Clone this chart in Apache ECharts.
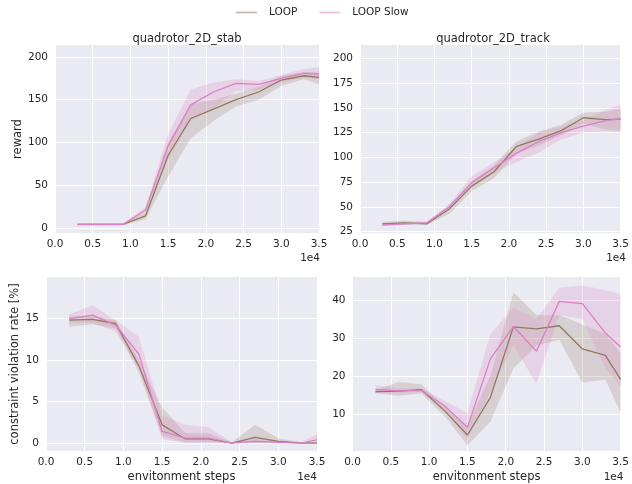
<!DOCTYPE html>
<html>
<head>
<meta charset="utf-8">
<script src="https://cdn.jsdelivr.net/npm/echarts@6/dist/echarts.min.js"></script>
<style>html,body{margin:0;padding:0;background:#fff}#c{width:632px;height:484px}</style>
</head>
<body>
<div id="c"></div>
<script>
// ---- data ----
const steps = [3000, 6000, 9000, 12000, 15000, 18000, 21000, 24000, 27000, 30000, 33000, 35000];
const xTicks = [0, 5000, 10000, 15000, 20000, 25000, 30000, 35000];
const titles = ['quadrotor_2D_stab', 'quadrotor_2D_track'];
const seriesNames = ['LOOP', 'LOOP Slow'];

// quadrotor_2D_stab reward
const stabLoop   = [4, 4, 4, 14, 85, 128, 139, 150, 159, 173, 178, 176];
const stabLoopLo = [3, 3, 3, 10, 60, 105, 125, 142, 150, 166, 174, 168];
const stabLoopHi = [5, 5, 5, 18, 100, 145, 150, 157, 165, 178, 182, 182];
const stabSlow   = [4, 4, 4, 21, 96, 144, 159, 169, 168, 175, 181, 180];
const stabSlowLo = [3, 3, 3, 18, 80, 125, 140, 160, 162, 170, 176, 174];
const stabSlowHi = [5, 5, 5, 24, 110, 162, 170, 174, 172, 179, 186, 188];

// quadrotor_2D_track reward
const trackLoop   = [33, 34, 33, 48, 71, 85.5, 111, 118.5, 127, 140, 138, 138.7];
const trackLoopLo = [31, 32, 32, 43, 66, 79, 104, 112, 122, 134, 128, 127];
const trackLoopHi = [35, 36, 35, 52, 76, 92, 116, 126, 133, 145, 146, 149];
const trackSlow   = [32, 33, 34, 50, 74.5, 89.5, 104, 116, 125, 131.5, 137, 139];
const trackSlowLo = [31, 32, 33, 48, 70, 84, 95, 105, 118, 125, 126, 125];
const trackSlowHi = [33, 34, 35, 53, 81, 95, 110, 125, 131, 137, 148, 153];

// constraint violation rate, stab
const cvStabLoop   = [14.8, 14.9, 14.4, 9.3, 2.2, 0.5, 0.5, 0, 0.7, 0.2, 0, 0];
const cvStabLoopLo = [14.0, 14.3, 13.8, 8.5, 0.8, 0.1, 0.1, 0, 0, 0, 0, 0];
const cvStabLoopHi = [15.3, 15.3, 14.8, 10.0, 4.3, 1.2, 1.2, 0.1, 2.2, 0.6, 0.1, 0.1];
const cvStabSlow   = [15.0, 15.4, 14.2, 10.7, 1.4, 0.6, 0.6, 0, 0.2, 0.1, 0, 0.4];
const cvStabSlowLo = [14.5, 14.5, 13.4, 9.0, 0.5, 0, 0, 0, 0, 0, 0, 0];
const cvStabSlowHi = [15.5, 16.6, 14.8, 12.8, 3.3, 2.2, 1.9, 0.1, 0.5, 0.3, 0.1, 1.1];

// constraint violation rate, track
const cvTrackLoop   = [15.9, 16.0, 16.4, 10.9, 4.5, 14.4, 32.9, 32.4, 33.2, 27.1, 25.4, 19.1];
const cvTrackLoopLo = [15.5, 14.8, 15.4, 9.5, 1.8, 8.0, 22.0, 28.0, 29.5, 18.3, 19.0, 10.5];
const cvTrackLoopHi = [16.3, 18.4, 17.8, 12.0, 7.0, 20.0, 42.0, 36.0, 36.0, 33.5, 31.0, 26.0];
const cvTrackSlow   = [16.5, 16.1, 16.2, 12.2, 6.5, 24.5, 33.0, 26.5, 39.6, 39.0, 31.3, 27.6];
const cvTrackSlowLo = [15.5, 15.6, 15.8, 10.8, 3.5, 16.0, 28.0, 18.0, 36.0, 35.0, 22.0, 17.3];
const cvTrackSlowHi = [17.7, 16.7, 16.8, 13.5, 10.3, 31.0, 38.0, 35.0, 43.2, 43.8, 42.6, 41.5];

const yTicksStab = [0, 50, 100, 150, 200];
const yTicksTrack = [25, 50, 75, 100, 125, 150, 175, 200];
const yTicksCvStab = [0, 5, 10, 15];
const yTicksCvTrack = [10, 20, 30, 40];

// ---- chart ----
const FONT = 'DejaVu Sans';
const TXT = '#262626';
const colors = ['#937860', '#dd7fc4'];
const bandColors = ['rgba(147,120,96,0.22)', 'rgba(218,139,195,0.25)'];

const grids = [
  {left: 55, top: 45, width: 264, height: 188},
  {left: 360, top: 45, width: 266, height: 188},
  {left: 46, top: 277, width: 271, height: 175},
  {left: 352.5, top: 277, width: 271, height: 175}
];
const yRanges = [[-6, 214], [23.7, 213.4], [-0.95, 20], [0.3, 46]];
const yTicks = [yTicksStab, yTicksTrack, yTicksCvStab, yTicksCvTrack];
const panels = [
  [[stabLoop, stabLoopLo, stabLoopHi], [stabSlow, stabSlowLo, stabSlowHi]],
  [[trackLoop, trackLoopLo, trackLoopHi], [trackSlow, trackSlowLo, trackSlowHi]],
  [[cvStabLoop, cvStabLoopLo, cvStabLoopHi], [cvStabSlow, cvStabSlowLo, cvStabSlowHi]],
  [[cvTrackLoop, cvTrackLoopLo, cvTrackLoopHi], [cvTrackSlow, cvTrackSlowLo, cvTrackSlowHi]]
];
const yNames = ['reward', '', 'constraint violation rate [%]', ''];
const yNameGaps = [30, 0, 25, 0];

const xAxis = grids.map((g, i) => ({
  type: 'value', gridIndex: i, min: 0, max: 35000, interval: 5000,
  axisLine: {show: false}, axisTick: {show: false},
  splitLine: {show: true, lineStyle: {color: '#ffffff', width: 1}},
  axisLabel: {color: TXT, fontFamily: FONT, fontSize: 10.5, margin: 6,
    formatter: v => (v / 10000).toFixed(1)},
  name: i >= 2 ? 'envitonment steps' : '',
  nameLocation: 'middle', nameGap: 20,
  nameTextStyle: {color: TXT, fontFamily: FONT, fontSize: 11.5}
}));

const yAxis = grids.map((g, i) => ({
  type: 'value', gridIndex: i, min: yRanges[i][0], max: yRanges[i][1],
  axisLine: {show: false},
  axisTick: {show: false, customValues: yTicks[i]},
  axisLabel: {color: TXT, fontFamily: FONT, fontSize: 10.5, margin: 7, customValues: yTicks[i]},
  splitLine: {show: true, lineStyle: {color: '#ffffff', width: 1}},
  name: yNames[i], nameLocation: 'middle', nameGap: yNameGaps[i],
  nameTextStyle: {color: TXT, fontFamily: FONT, fontSize: 11.5}
}));

function bandSeries(gi, si, lo, hi) {
  return {
    name: 'band' + gi + si, type: 'custom', xAxisIndex: gi, yAxisIndex: gi,
    silent: true, z: 1,
    data: [[steps[0], lo[0]]],
    renderItem: function (params, api) {
      const pts = [];
      for (let k = 0; k < steps.length; k++) pts.push(api.coord([steps[k], hi[k]]));
      for (let k = steps.length - 1; k >= 0; k--) pts.push(api.coord([steps[k], lo[k]]));
      return {type: 'polygon', shape: {points: pts}, style: {fill: bandColors[si], stroke: 'none'}};
    }
  };
}

const series = [];
panels.forEach((panel, gi) => {
  panel.forEach((trip, si) => {
    series.push(bandSeries(gi, si, trip[1], trip[2]));
  });
  panel.forEach((trip, si) => {
    series.push({
      name: seriesNames[si], type: 'line', xAxisIndex: gi, yAxisIndex: gi,
      data: steps.map((x, k) => [x, trip[0][k]]),
      symbol: 'none', z: 3 + si,
      lineStyle: {color: colors[si], width: 1.3},
      itemStyle: {color: colors[si]}
    });
  });
});

const graphic = [];
[[187, 39, titles[0]], [493, 39, titles[1]]].forEach(t => {
  graphic.push({type: 'text', x: t[0], y: t[1], style: {text: t[2], fill: TXT,
    font: '11.5px "DejaVu Sans"', textAlign: 'center', textVerticalAlign: 'middle'}});
});
[[320, 258.5], [626, 258.5], [317, 477], [623.5, 477.5]].forEach(p => {
  graphic.push({type: 'text', x: p[0], y: p[1], style: {text: '1e4', fill: TXT,
    font: '10.5px "DejaVu Sans"', textAlign: 'right', textVerticalAlign: 'middle'}});
});

const chart = echarts.init(document.getElementById('c'), null, {renderer: 'canvas'});
chart.setOption({
  animation: false,
  backgroundColor: '#ffffff',
  grid: grids.map(g => Object.assign({show: true, backgroundColor: '#EAEAF2', borderWidth: 0, containLabel: false}, g)),
  xAxis: xAxis,
  yAxis: yAxis,
  legend: {
    left: 231, top: 2, itemWidth: 21, itemHeight: 1.6, itemGap: 22,
    icon: 'rect',
    data: [
      {name: 'LOOP', itemStyle: {color: 'rgba(147,120,96,0.55)'}},
      {name: 'LOOP Slow', itemStyle: {color: 'rgba(221,127,196,0.55)'}}
    ],
    textStyle: {color: TXT, fontFamily: FONT, fontSize: 10.5, padding: [0, 0, 0, 7]}
  },
  series: series,
  graphic: graphic
});
</script>
</body>
</html>
